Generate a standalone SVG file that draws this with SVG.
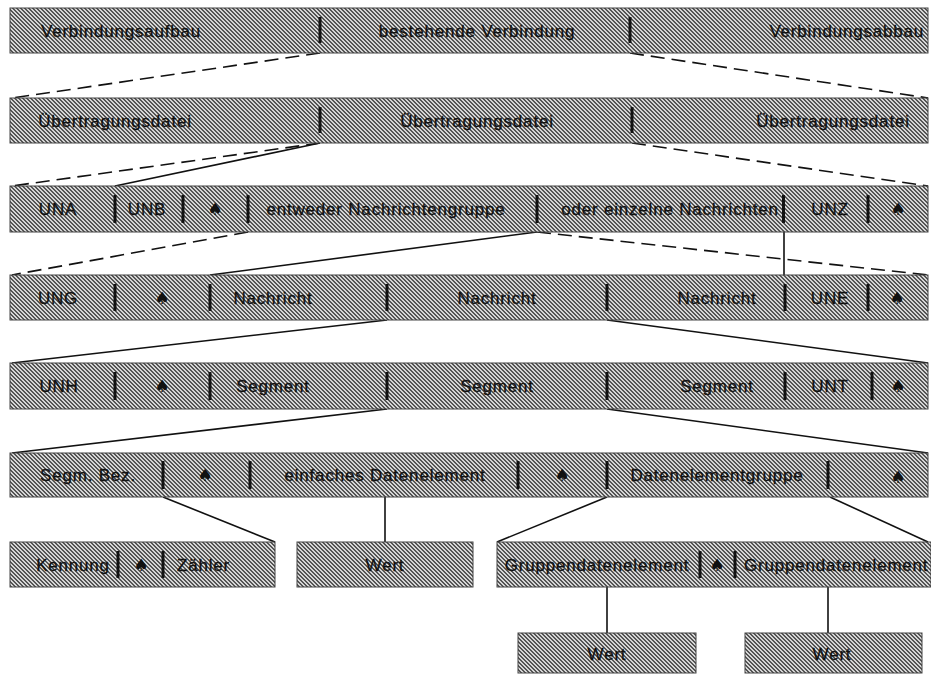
<svg xmlns="http://www.w3.org/2000/svg" width="931" height="674" viewBox="0 0 931 674">
<defs>
<pattern id="dither" width="4" height="4" patternUnits="userSpaceOnUse">
<rect width="4" height="4" fill="#d6d6d6"/>
<rect x="0" y="0" width="2" height="1" fill="#555555"/>
<rect x="1" y="1" width="2" height="1" fill="#555555"/>
<rect x="2" y="2" width="2" height="1" fill="#555555"/>
<rect x="3" y="3" width="1" height="1" fill="#555555"/>
<rect x="0" y="3" width="1" height="1" fill="#555555"/>
</pattern>
</defs>
<style>
.bar{fill:url(#dither);stroke:#444;stroke-width:1}
.dv{fill:#111}
.t{font-family:"Liberation Sans",Arial,sans-serif;font-size:17px;letter-spacing:0.8px;fill:#111;stroke:#111;stroke-width:0.3px;text-anchor:middle}
.ts{text-anchor:start}
.te{text-anchor:end}
.s{font-family:"DejaVu Sans",sans-serif;font-size:17px;fill:#111;text-anchor:middle}
.c{stroke:#111;stroke-width:1.6;fill:none}
.d{stroke-dasharray:14 7}
</style>
<rect width="931" height="674" fill="#ffffff"/>

<g id="connectors">
<line class="c d" x1="320" y1="53" x2="12" y2="98"/>
<line class="c d" x1="630" y1="53" x2="928" y2="98"/>
<line class="c d" x1="320" y1="143" x2="12" y2="186"/>
<line class="c" x1="320" y1="143" x2="115" y2="186"/>
<line class="c d" x1="632" y1="143" x2="928" y2="186"/>
<line class="c d" x1="248" y1="232" x2="12" y2="275"/>
<line class="c" x1="537" y1="232" x2="210" y2="275"/>
<line class="c d" x1="537" y1="232" x2="928" y2="275"/>
<line class="c" x1="784" y1="232" x2="784" y2="275"/>
<line class="c" x1="387" y1="320" x2="12" y2="363"/>
<line class="c" x1="607" y1="320" x2="928" y2="363"/>
<line class="c" x1="387" y1="409" x2="12" y2="453"/>
<line class="c" x1="607" y1="409" x2="928" y2="453"/>
<line class="c" x1="163" y1="497" x2="275" y2="542"/>
<line class="c" x1="385" y1="497" x2="385" y2="542"/>
<line class="c" x1="607" y1="497" x2="497" y2="542"/>
<line class="c" x1="830" y1="497" x2="928" y2="542"/>
<line class="c" x1="607" y1="587" x2="607" y2="633"/>
<line class="c" x1="828" y1="587" x2="828" y2="633"/>
</g>

<g id="row1">
<rect class="bar" x="10" y="8" width="918" height="45"/>
<rect class="dv" x="318.5" y="17" width="3" height="26"/>
<rect class="dv" x="628.5" y="17" width="3" height="26"/>
<text class="t" x="121" y="37">Verbindungsaufbau</text>
<text class="t" x="477" y="37">bestehende Verbindung</text>
<text class="t te" x="924" y="37">Verbindungsabbau</text>
</g>

<g id="row2">
<rect class="bar" x="10" y="98" width="918" height="45"/>
<rect class="dv" x="318.5" y="107" width="3" height="26"/>
<rect class="dv" x="630.5" y="107" width="3" height="26"/>
<text class="t" x="115" y="127">Übertragungsdatei</text>
<text class="t" x="477" y="127">Übertragungsdatei</text>
<text class="t" x="833" y="127">Übertragungsdatei</text>
</g>

<g id="row3">
<rect class="bar" x="10" y="186" width="918" height="46"/>
<rect class="dv" x="113.5" y="195" width="3" height="28"/>
<rect class="dv" x="181.5" y="195" width="3" height="28"/>
<rect class="dv" x="246.5" y="195" width="3" height="28"/>
<rect class="dv" x="535.5" y="195" width="3" height="28"/>
<rect class="dv" x="782" y="195" width="3" height="28"/>
<rect class="dv" x="866.5" y="195" width="3" height="28"/>
<text class="t" x="58" y="215">UNA</text>
<text class="t" x="147" y="215">UNB</text>
<text class="s" x="215" y="215">♠</text>
<text class="t" x="386" y="215">entweder Nachrichtengruppe</text>
<text class="t" x="670" y="215">oder einzelne Nachrichten</text>
<text class="t" x="830" y="215">UNZ</text>
<text class="s" x="898" y="215">♠</text>
</g>

<g id="row4">
<rect class="bar" x="10" y="275" width="918" height="45"/>
<rect class="dv" x="113.5" y="284" width="3" height="27"/>
<rect class="dv" x="208.5" y="284" width="3" height="27"/>
<rect class="dv" x="385.5" y="284" width="3" height="27"/>
<rect class="dv" x="605.5" y="284" width="3" height="27"/>
<rect class="dv" x="783.5" y="284" width="3" height="27"/>
<rect class="dv" x="866.5" y="284" width="3" height="27"/>
<text class="t" x="58" y="304">UNG</text>
<text class="s" x="162" y="304">♠</text>
<text class="t" x="273" y="304">Nachricht</text>
<text class="t" x="497" y="304">Nachricht</text>
<text class="t" x="717" y="304">Nachricht</text>
<text class="t" x="830" y="304">UNE</text>
<text class="s" x="897" y="304">♠</text>
</g>

<g id="row5">
<rect class="bar" x="10" y="363" width="918" height="46"/>
<rect class="dv" x="113.5" y="372" width="3" height="28"/>
<rect class="dv" x="208.5" y="372" width="3" height="28"/>
<rect class="dv" x="385.5" y="372" width="3" height="28"/>
<rect class="dv" x="605.5" y="372" width="3" height="28"/>
<rect class="dv" x="783.5" y="372" width="3" height="28"/>
<rect class="dv" x="870.5" y="372" width="3" height="28"/>
<text class="t" x="59" y="392">UNH</text>
<text class="s" x="162" y="392">♠</text>
<text class="t" x="273" y="392">Segment</text>
<text class="t" x="497" y="392">Segment</text>
<text class="t" x="717" y="392">Segment</text>
<text class="t" x="830" y="392">UNT</text>
<text class="s" x="898" y="392">♠</text>
</g>

<g id="row6">
<rect class="bar" x="10" y="453" width="918" height="44"/>
<rect class="dv" x="161.5" y="461" width="3" height="28"/>
<rect class="dv" x="248.5" y="461" width="3" height="28"/>
<rect class="dv" x="516.5" y="461" width="3" height="28"/>
<rect class="dv" x="605.5" y="461" width="3" height="28"/>
<rect class="dv" x="826.5" y="461" width="3" height="28"/>
<text class="t" x="88" y="481">Segm. Bez.</text>
<text class="s" x="205" y="481">♠</text>
<text class="t" x="385" y="481">einfaches Datenelement</text>
<text class="s" x="562" y="481">♠</text>
<text class="t" x="717" y="481">Datenelementgruppe</text>
<text class="s" x="898" y="483">♠</text>
</g>

<g id="box-kennung">
<rect class="bar" x="10" y="542" width="265" height="45"/>
<rect class="dv" x="116.5" y="551" width="3" height="27"/>
<rect class="dv" x="161.5" y="551" width="3" height="27"/>
<text class="t" x="73" y="571">Kennung</text>
<text class="s" x="141" y="571">♠</text>
<text class="t ts" x="177" y="571">Zähler</text>
</g>

<g id="box-wert1">
<rect class="bar" x="297" y="542" width="176" height="45"/>
<text class="t" x="385" y="571">Wert</text>
</g>

<g id="box-gruppe">
<rect class="bar" x="497" y="542" width="434" height="45"/>
<rect class="dv" x="698.5" y="551" width="3" height="27"/>
<rect class="dv" x="733.5" y="551" width="3" height="27"/>
<text class="t" x="597" y="571">Gruppendatenelement</text>
<text class="s" x="717" y="571">♠</text>
<text class="t ts" x="744" y="571">Gruppendatenelement</text>
</g>

<g id="box-wert2">
<rect class="bar" x="518" y="633" width="178" height="40"/>
<text class="t" x="607" y="660">Wert</text>
</g>

<g id="box-wert3">
<rect class="bar" x="745" y="633" width="177" height="40"/>
<text class="t" x="832" y="660">Wert</text>
</g>
</svg>
